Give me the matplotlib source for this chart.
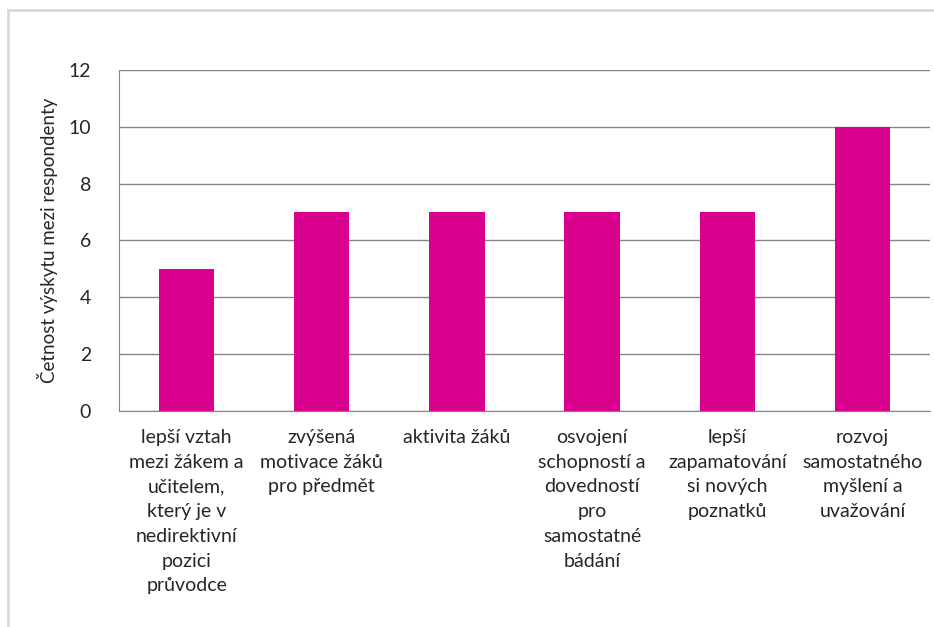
import matplotlib
matplotlib.use("Agg")
import matplotlib.pyplot as plt
from matplotlib.lines import Line2D

plt.rcParams['font.family'] = ['Lato', 'DejaVu Sans']

categories = [
    "lepší vztah\nmezi žákem a\nučitelem,\nkterý je v\nnedirektivní\npozici\nprůvodce",
    "zvýšená\nmotivace žáků\npro předmět",
    "aktivita žáků",
    "osvojení\nschopností a\ndovedností\npro\nsamostatné\nbádání",
    "lepší\nzapamatování\nsi nových\npoznatků",
    "rozvoj\nsamostatného\nmyšlení a\nuvažování",
]
values = [5, 7, 7, 7, 7, 10]
yticks = [0, 2, 4, 6, 8, 10, 12]
ylabel = "Četnost výskytu mezi respondenty"

text_color = '#262626'
grid_color = '#868686'
bar_color = '#D9008D'

fig = plt.figure(figsize=(9.34, 6.27), dpi=100)
ax = fig.add_axes([0.1274, 0.3445, 0.8683, 0.5439])

x = list(range(len(values)))
ax.bar(x, values, width=0.41, color=bar_color, zorder=3)
ax.set_xlim(-0.5, len(values) - 0.5)
ax.set_ylim(0, 12)
ax.set_yticks(yticks)
ax.set_yticklabels([str(v) for v in yticks], fontsize=14, color=text_color)
ax.set_xticks(x)
ax.set_xticklabels(categories, fontsize=14, color=text_color, linespacing=1.55)
ax.tick_params(axis='both', length=0)
ax.tick_params(axis='x', pad=13)
ax.tick_params(axis='y', pad=20)
ax.grid(axis='y', color=grid_color, linewidth=1, zorder=0)
for s in ['top', 'right']:
    ax.spines[s].set_visible(False)
ax.spines['left'].set_color(grid_color)
ax.spines['bottom'].set_color(grid_color)
ax.set_ylabel(ylabel, fontsize=13.5, color=text_color)
ax.yaxis.set_label_coords(-0.075, 0.5)

# outer chart-area frame (left and top visible)
fig.add_artist(Line2D([8/934, 8/934], [0, 1 - 10/627], transform=fig.transFigure, color='#d9d9d9', linewidth=2))
fig.add_artist(Line2D([8/934, 1], [1 - 10/627, 1 - 10/627], transform=fig.transFigure, color='#d9d9d9', linewidth=2))

fig.savefig("out.png", dpi=100)
